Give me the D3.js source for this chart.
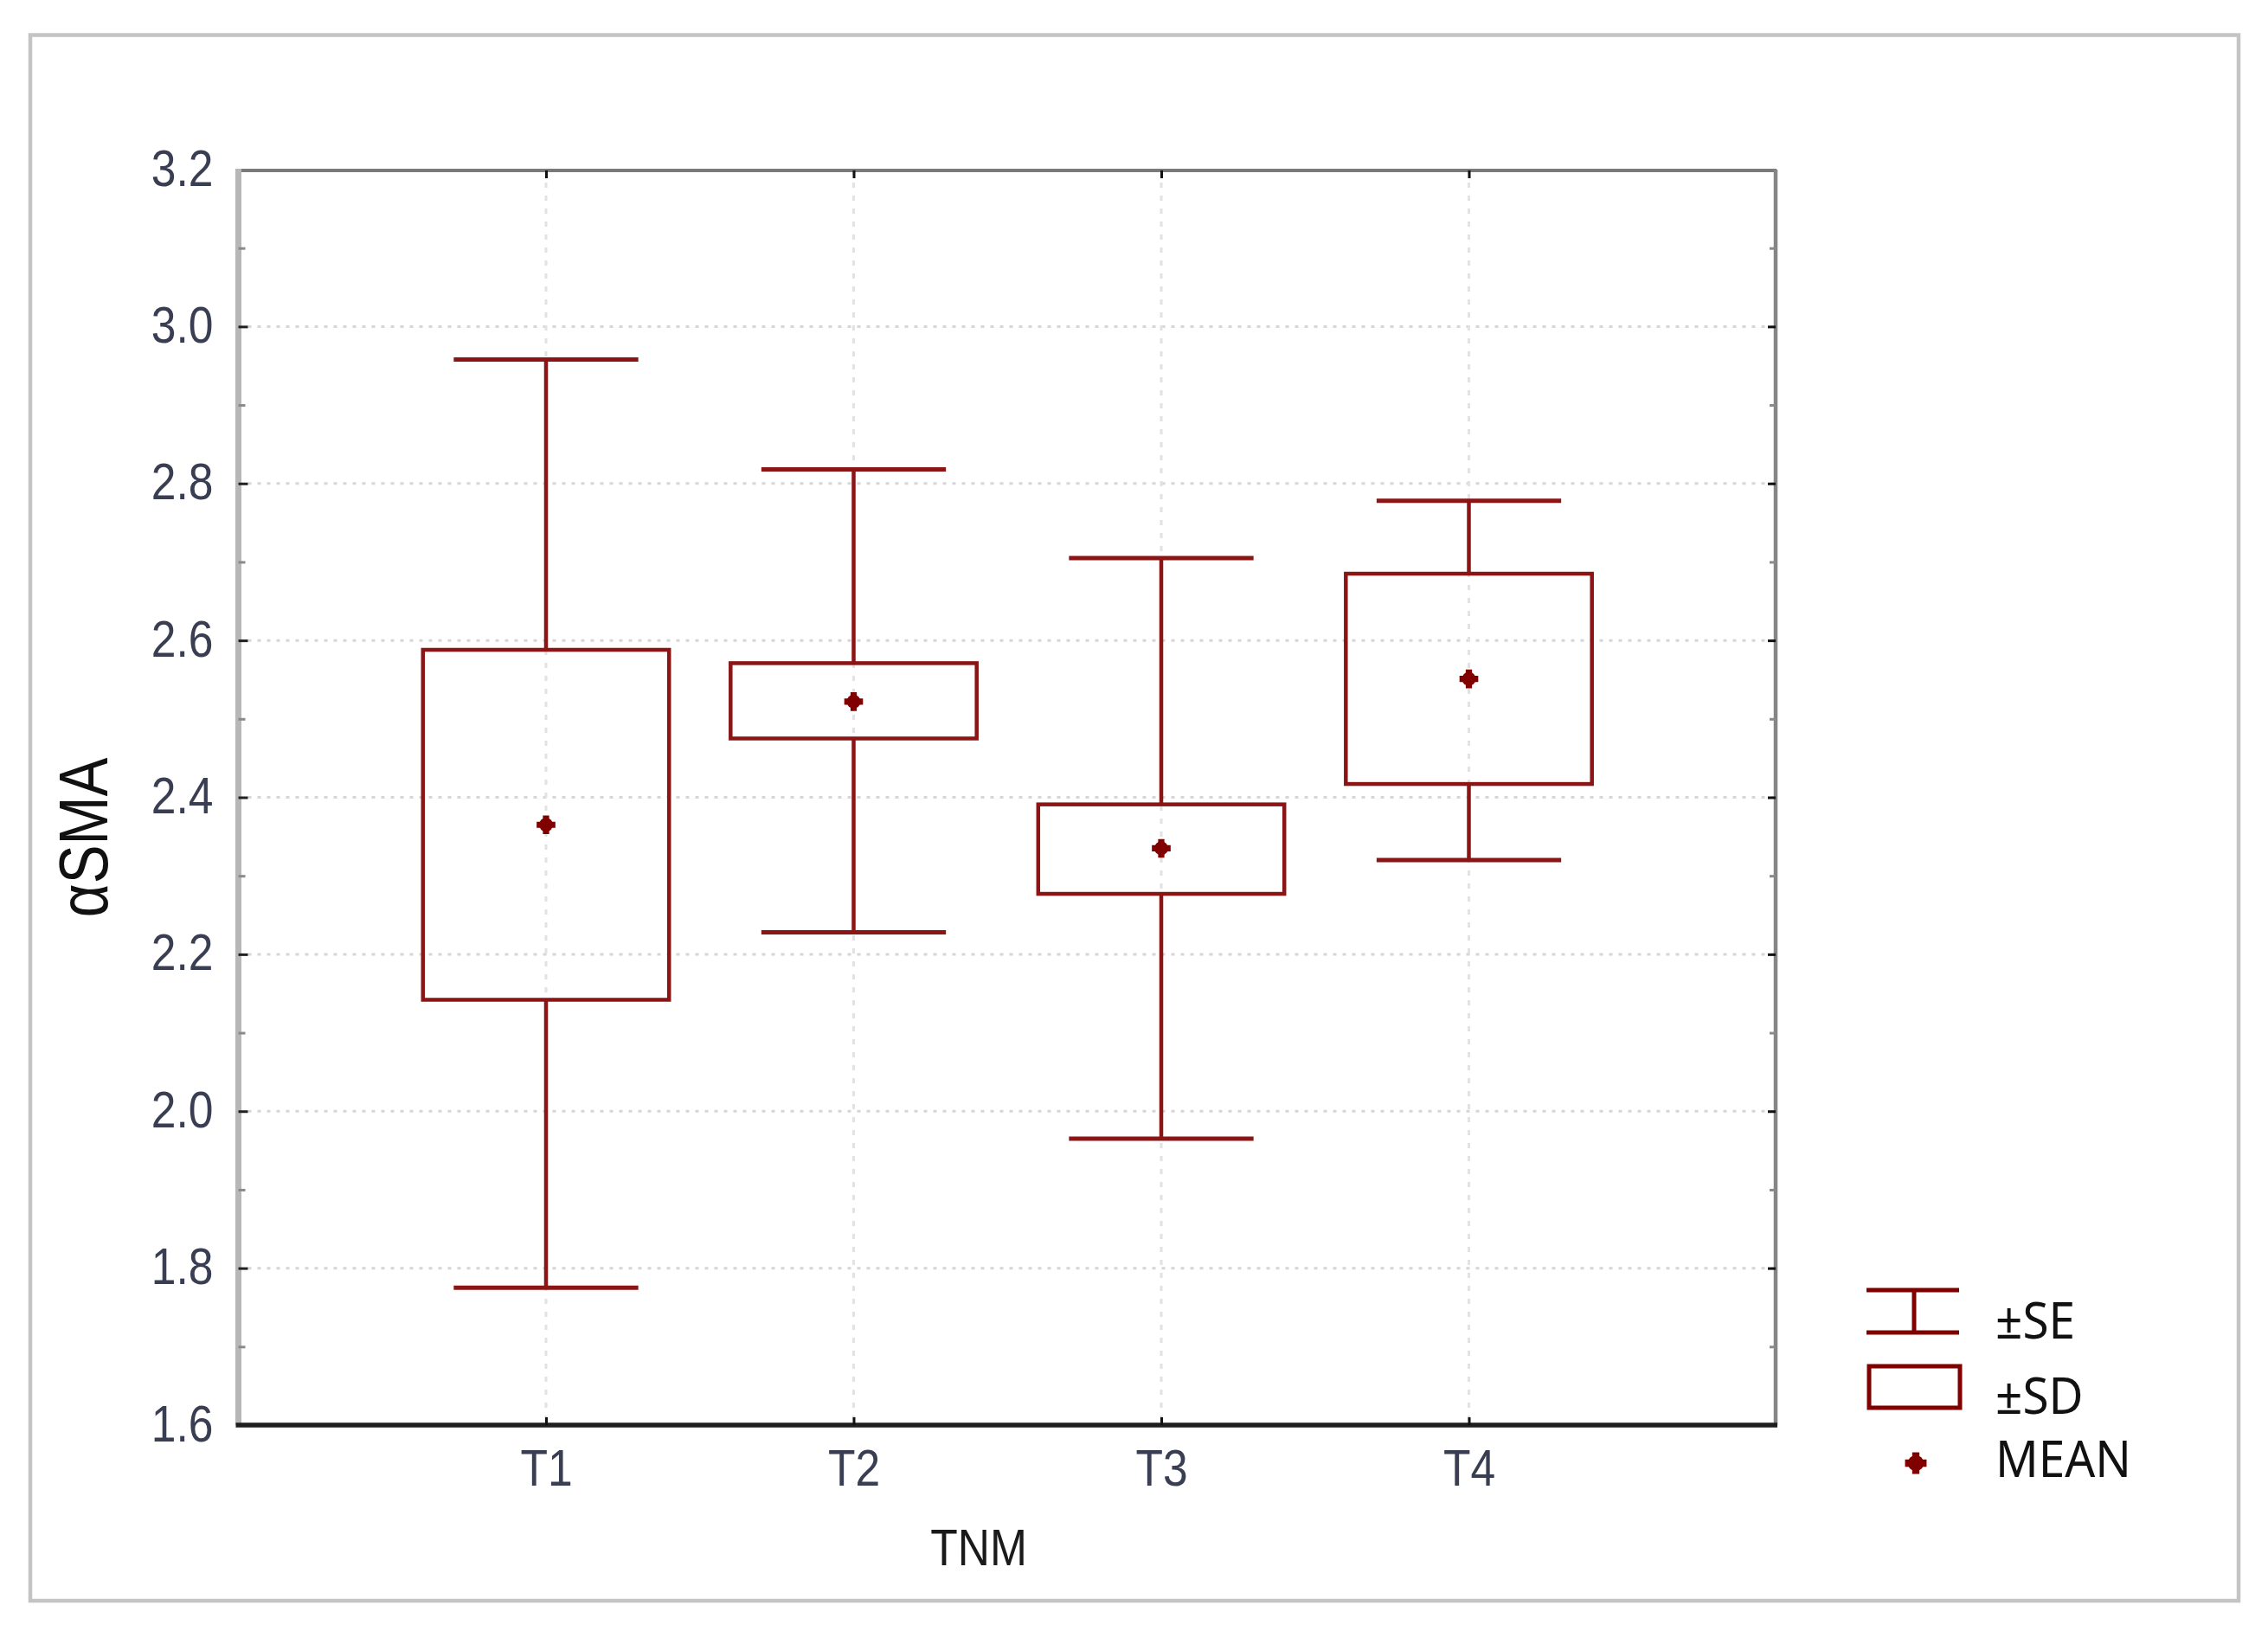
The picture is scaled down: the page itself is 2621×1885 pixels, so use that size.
<!DOCTYPE html>
<html>
<head>
<meta charset="utf-8">
<script src="https://cdn.jsdelivr.net/npm/d3@7"></script>
<style>
  html, body { margin: 0; padding: 0; background: #fff; }
  svg { display: block; }
</style>
</head>
<body>
<script>
// ---------------- data ----------------
const categories   = ["T1", "T2", "T3", "T4"];
const means        = [2.365, 2.522, 2.335, 2.551];
const sdLow        = [2.142, 2.475, 2.277, 2.417];   // box bottom  (±SD)
const sdHigh       = [2.588, 2.571, 2.391, 2.685];   // box top
const seLow        = [1.775, 2.228, 1.965, 2.320];   // whisker bottom (±SE)
const seHigh       = [2.958, 2.818, 2.705, 2.778];   // whisker top
const yMajorTicks  = [1.6, 1.8, 2.0, 2.2, 2.4, 2.6, 2.8, 3.0, 3.2];
const yMinorTicks  = [1.7, 1.9, 2.1, 2.3, 2.5, 2.7, 2.9, 3.1];
const xTitle = "TNM";
const yTitle = "αSMA";
const legendLabels = ["±SE", "±SD", "MEAN"];

// ---------------- layout ----------------
const W = 2621, H = 1885;
const L = 275.5, R = 2053, T = 196, B = 1647;
const markColor = "#8b1515";
const narrow = 0.86;   // horizontal condensing of the axis font

const svg = d3.select("body").append("svg")
  .attr("width", W).attr("height", H)
  .attr("viewBox", `0 0 ${W} ${H}`);

svg.append("rect").attr("width", W).attr("height", H).attr("fill", "#fff");

// outer frame
svg.append("rect")
  .attr("x", 35).attr("y", 40.5).attr("width", 2552).attr("height", 1809.5)
  .attr("fill", "none").attr("stroke", "#c4c4c4").attr("stroke-width", 4.5);

const x = d3.scalePoint().domain(categories).range([L, R]).padding(1);
const y = d3.scaleLinear().domain([1.6, 3.2]).range([B, T]);
const step = x.step();

const rows = categories.map((c, i) => ({
  c, mean: means[i], sdLow: sdLow[i], sdHigh: sdHigh[i], seLow: seLow[i], seHigh: seHigh[i]
}));

// ---------------- grid ----------------
const grid = svg.append("g");
grid.selectAll("line.h").data(yMajorTicks.filter(v => v > 1.6 && v < 3.2)).join("line")
  .attr("x1", L).attr("x2", R).attr("y1", d => y(d)).attr("y2", d => y(d))
  .attr("stroke", "#d6d6d6").attr("stroke-width", 3).attr("stroke-dasharray", "4,7");
grid.selectAll("line.v").data(categories).join("line")
  .attr("y1", T).attr("y2", B).attr("x1", d => x(d)).attr("x2", d => x(d))
  .attr("stroke", "#e2e2e2").attr("stroke-width", 3).attr("stroke-dasharray", "6,9");

// ---------------- marks ----------------
const marks = svg.append("g").attr("stroke", markColor).attr("fill", "none");
const boxW = step * 0.8, capW = step * 0.6;

// whisker stems (from box edge to cap)
marks.selectAll("line.stemTop").data(rows).join("line")
  .attr("x1", d => x(d.c)).attr("x2", d => x(d.c))
  .attr("y1", d => y(d.sdHigh)).attr("y2", d => y(d.seHigh))
  .attr("stroke-width", 4.5);
marks.selectAll("line.stemBot").data(rows).join("line")
  .attr("x1", d => x(d.c)).attr("x2", d => x(d.c))
  .attr("y1", d => y(d.sdLow)).attr("y2", d => y(d.seLow))
  .attr("stroke-width", 4.5);
// caps
marks.selectAll("line.capTop").data(rows).join("line")
  .attr("x1", d => x(d.c) - capW / 2).attr("x2", d => x(d.c) + capW / 2)
  .attr("y1", d => y(d.seHigh)).attr("y2", d => y(d.seHigh))
  .attr("stroke-width", 5);
marks.selectAll("line.capBot").data(rows).join("line")
  .attr("x1", d => x(d.c) - capW / 2).attr("x2", d => x(d.c) + capW / 2)
  .attr("y1", d => y(d.seLow)).attr("y2", d => y(d.seLow))
  .attr("stroke-width", 5);
// boxes
marks.selectAll("rect.box").data(rows).join("rect")
  .attr("x", d => x(d.c) - boxW / 2).attr("width", boxW)
  .attr("y", d => y(d.sdHigh)).attr("height", d => y(d.sdLow) - y(d.sdHigh))
  .attr("fill", "none").attr("stroke-width", 4.5);

// mean markers
const crossPath = d3.symbol(d3.symbolCross, 260)();
function meanMarker(g, cx, cy, s) {
  const m = g.append("g").attr("transform", `translate(${cx},${cy}) scale(${s})`);
  m.append("circle").attr("r", 8).attr("fill", "#800000").attr("stroke", "none");
  m.append("path").attr("d", crossPath).attr("fill", "#800000").attr("stroke", "none");
}
rows.forEach(d => meanMarker(svg, x(d.c), y(d.mean), 1));

// ---------------- frame & ticks ----------------
const frame = svg.append("g");
frame.append("line").attr("x1", L).attr("x2", R).attr("y1", T + 1).attr("y2", T + 1)
  .attr("stroke", "#7a7a7a").attr("stroke-width", 4);
frame.append("line").attr("x1", R - 1).attr("x2", R - 1).attr("y1", T).attr("y2", B)
  .attr("stroke", "#858585").attr("stroke-width", 4.5);
frame.append("line").attr("x1", L).attr("x2", L).attr("y1", T - 1).attr("y2", B)
  .attr("stroke", "#b7b7b7").attr("stroke-width", 7);
frame.append("line").attr("x1", L - 3).attr("x2", R + 1).attr("y1", B).attr("y2", B)
  .attr("stroke", "#1e1e1e").attr("stroke-width", 5.5);

// left axis (labels + inward major ticks)
const yAxisG = svg.append("g").attr("transform", `translate(${L},0)`)
  .call(d3.axisLeft(y).tickValues(yMajorTicks).tickFormat(d3.format(".1f"))
    .tickSizeInner(-11).tickSizeOuter(0).tickPadding(29));
yAxisG.select(".domain").remove();
yAxisG.selectAll(".tick line").attr("stroke", "#202020").attr("stroke-width", 3)
  .filter(d => d === 1.6 || d === 3.2).remove();
yAxisG.selectAll(".tick text")
  .attr("font-family", "'Liberation Sans', Arial, sans-serif")
  .attr("font-size", 60).attr("fill", "#3a3e52")
  .attr("dy", 0).attr("y", 18)
  .attr("x", -29 / narrow)
  .attr("transform", `scale(${narrow},1)`);

// left minor ticks
const yMinorG = svg.append("g").attr("transform", `translate(${L},0)`)
  .call(d3.axisLeft(y).tickValues(yMinorTicks).tickFormat("").tickSizeInner(-8).tickSizeOuter(0));
yMinorG.select(".domain").remove();
yMinorG.selectAll(".tick line").attr("stroke", "#8a8a8a").attr("stroke-width", 3);

// right axis ticks (inward)
const yRightG = svg.append("g").attr("transform", `translate(${R - 1},0)`)
  .call(d3.axisRight(y).tickValues(yMajorTicks.filter(v => v > 1.6 && v < 3.2)).tickFormat("")
    .tickSizeInner(-9).tickSizeOuter(0));
yRightG.select(".domain").remove();
yRightG.selectAll(".tick line").attr("stroke", "#111").attr("stroke-width", 3);
const yRightMinorG = svg.append("g").attr("transform", `translate(${R - 1},0)`)
  .call(d3.axisRight(y).tickValues(yMinorTicks).tickFormat("").tickSizeInner(-7).tickSizeOuter(0));
yRightMinorG.select(".domain").remove();
yRightMinorG.selectAll(".tick line").attr("stroke", "#8a8a8a").attr("stroke-width", 3);

// bottom axis (labels + inward ticks)
const xAxisG = svg.append("g").attr("transform", `translate(0,${B})`)
  .call(d3.axisBottom(x).tickSizeInner(-9).tickSizeOuter(0).tickPadding(28));
xAxisG.select(".domain").remove();
xAxisG.selectAll(".tick line").attr("stroke", "#111").attr("stroke-width", 3);
xAxisG.selectAll(".tick text")
  .attr("font-family", "'Liberation Sans', Arial, sans-serif")
  .attr("font-size", 60).attr("fill", "#3a3e52")
  .attr("dy", 0).attr("y", 70)
  .attr("transform", `scale(${narrow},1)`);

// top axis ticks
const xTopG = svg.append("g").attr("transform", `translate(0,${T + 1})`)
  .call(d3.axisTop(x).tickFormat("").tickSizeInner(-9).tickSizeOuter(0));
xTopG.select(".domain").remove();
xTopG.selectAll(".tick line").attr("stroke", "#111").attr("stroke-width", 3);

// ---------------- titles ----------------
svg.append("text")
  .attr("transform", `translate(1131,1809) scale(${narrow},1)`)
  .attr("text-anchor", "middle")
  .attr("font-family", "'Liberation Sans', Arial, sans-serif")
  .attr("font-size", 60).attr("fill", "#1a1a1a")
  .text(xTitle);

svg.append("text")
  .attr("transform", `translate(124,968) rotate(-90) scale(0.84,1)`)
  .attr("text-anchor", "middle")
  .attr("font-family", "'Liberation Sans', Arial, sans-serif")
  .attr("font-size", 80).attr("fill", "#111")
  .text(yTitle);

// ---------------- legend ----------------
const lg = svg.append("g");
// ±SE symbol
lg.append("line").attr("x1", 2157).attr("x2", 2264).attr("y1", 1491).attr("y2", 1491)
  .attr("stroke", "#800000").attr("stroke-width", 5);
lg.append("line").attr("x1", 2157).attr("x2", 2264).attr("y1", 1540).attr("y2", 1540)
  .attr("stroke", "#800000").attr("stroke-width", 5);
lg.append("line").attr("x1", 2212).attr("x2", 2212).attr("y1", 1491).attr("y2", 1540)
  .attr("stroke", "#800000").attr("stroke-width", 5);
// ±SD symbol
lg.append("rect").attr("x", 2160).attr("y", 1579).attr("width", 105).attr("height", 48)
  .attr("fill", "none").attr("stroke", "#800000").attr("stroke-width", 5);
// MEAN symbol
meanMarker(lg, 2214, 1691, 1.15);

const legendY = [1547, 1634, 1707];
lg.selectAll("text").data(legendLabels).join("text")
  .attr("transform", (d, i) => `translate(2306,${legendY[i]}) scale(0.93,1)`)
  .attr("font-family", "'Noto Sans', 'Open Sans', sans-serif")
  .attr("font-size", 59).attr("fill", "#111")
  .text(d => d);
</script>
</body>
</html>
